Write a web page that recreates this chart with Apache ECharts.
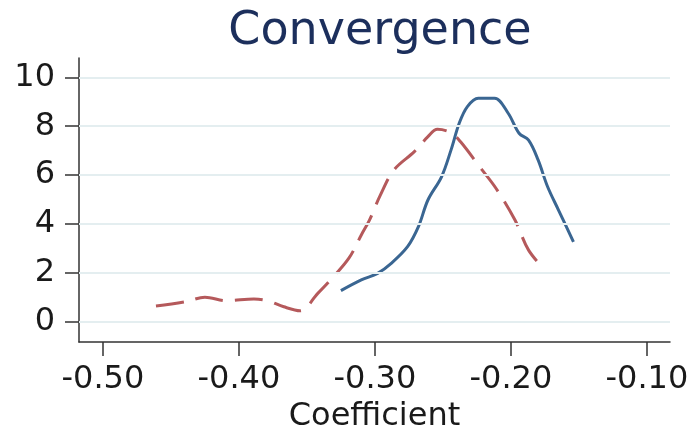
<!DOCTYPE html>
<html>
<head>
    <meta charset="utf-8">
    <title>Convergence</title>
    <style type="text/css">
        html, body { margin: 0; padding: 0; background: #fff; }
        #main { width: 696px; height: 428px; }
    </style>
</head>
<body>
    <div id="main"></div>
    <script src="https://cdn.jsdelivr.net/npm/echarts@6/dist/echarts.min.js"></script>
    <script>
        // solid blue curve
        var blueX = [-0.325, -0.310, -0.298, -0.288, -0.276, -0.268, -0.261, -0.251, -0.244, -0.238,
                     -0.232, -0.224, -0.212, -0.202, -0.194, -0.187, -0.180, -0.173, -0.165, -0.154];
        var blueY = [1.27, 1.71, 1.98, 2.39, 3.07, 3.89, 4.98, 5.93, 7.03, 8.12,
                     8.80, 9.14, 9.14, 8.53, 7.71, 7.43, 6.62, 5.52, 4.57, 3.27];
        // dashed red curve
        var redX = [-0.461, -0.439, -0.425, -0.409, -0.389, -0.379, -0.367, -0.355, -0.342, -0.332,
                    -0.319, -0.310, -0.304, -0.296, -0.286, -0.271, -0.261, -0.254, -0.244, -0.237,
                    -0.223, -0.211, -0.197, -0.187, -0.175];
        var redY = [0.64, 0.82, 1.00, 0.86, 0.93, 0.86, 0.61, 0.45, 1.16, 1.75,
                    2.61, 3.55, 4.16, 5.18, 6.21, 6.96, 7.57, 7.87, 7.73, 7.36,
                    6.34, 5.46, 4.16, 2.93, 2.12];
        // ticks
        var xTicks = [-0.5, -0.4, -0.3, -0.2, -0.1];
        var yTicks = [0, 2, 4, 6, 8, 10];

        function pairs(xs, ys) {
            var out = [];
            for (var i = 0; i < xs.length; i++) out.push([xs[i], ys[i]]);
            return out;
        }

        var myChart = echarts.init(document.getElementById('main'));
        var FONT = 'DejaVu Sans';

        var option = {
            animation: false,
            title: {
                text: 'Convergence',
                left: 375,
                textAlign: 'center',
                top: 4,
                textStyle: { fontFamily: FONT, fontSize: 46, fontWeight: 'normal', color: '#1c2f5c' }
            },
            grid: { left: 79, right: 26, top: 58, bottom: 86, outerBoundsMode: 'none' },
            xAxis: {
                type: 'value',
                min: -0.5176,
                max: -0.083,
                name: 'Coefficient',
                nameLocation: 'middle',
                nameGap: 50,
                nameTextStyle: { fontFamily: FONT, fontSize: 32, color: '#1a1a1a' },
                axisLine: { onZero: false, lineStyle: { color: '#333', width: 1.5 } },
                axisTick: { customValues: xTicks, length: 14, lineStyle: { color: '#333', width: 1.5 } },
                axisLabel: {
                    customValues: xTicks, margin: 22,
                    fontFamily: FONT, fontSize: 32, color: '#1a1a1a',
                    formatter: function (v) { return v.toFixed(2); }
                },
                splitLine: { show: false }
            },
            yAxis: {
                type: 'value',
                min: -0.83,
                max: 10.79,
                axisLine: { show: true, onZero: false, lineStyle: { color: '#333', width: 1.5 } },
                axisTick: { show: true, customValues: yTicks, length: 14, lineStyle: { color: '#333', width: 1.5 } },
                axisLabel: { customValues: yTicks, margin: 24, fontFamily: FONT, fontSize: 32, color: '#1a1a1a' },
                splitLine: { show: false }
            },
            series: [
                {
                    name: 'grid',
                    type: 'line',
                    data: [],
                    silent: true,
                    markLine: {
                        silent: true,
                        symbol: 'none',
                        label: { show: false },
                        lineStyle: { color: '#e4eef0', width: 2, type: 'solid' },
                        data: yTicks.map(function (v) { return { yAxis: v }; })
                    }
                },
                {
                    name: 'red',
                    type: 'line',
                    data: pairs(redX, redY),
                    smooth: 0.35,
                    showSymbol: false,
                    lineStyle: { color: '#b5595b', width: 3, type: [28, 12] }
                },
                {
                    name: 'blue',
                    type: 'line',
                    data: pairs(blueX, blueY),
                    smooth: 0.35,
                    showSymbol: false,
                    lineStyle: { color: '#3a6692', width: 3 }
                }
            ]
        };

        myChart.setOption(option);
    </script>
</body>
</html>
